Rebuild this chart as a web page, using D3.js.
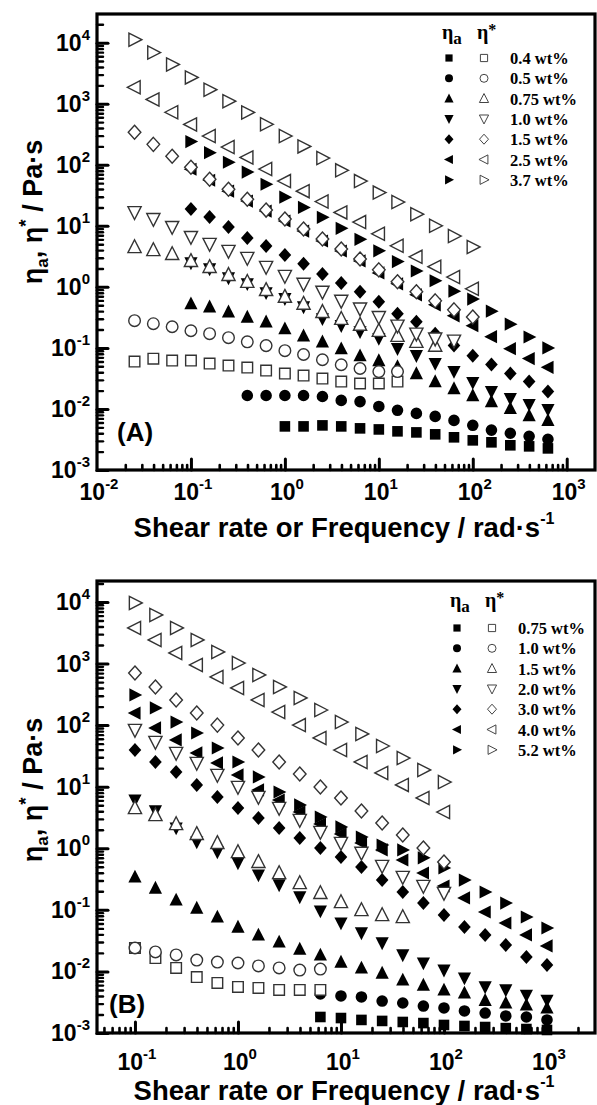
<!DOCTYPE html>
<html><head><meta charset="utf-8">
<script src="https://cdn.jsdelivr.net/npm/d3@7"></script>
<style>body{margin:0;background:#fff}svg{display:block}</style>
</head><body>
<svg id="chart" width="597" height="1105"></svg>
<script>
// ---------- DATA ----------
// Panel A
const rateA = [0.1,0.158,0.251,0.398,0.631,1,1.58,2.51,3.98,6.31,10,15.8,25.1,39.8,63.1,100,158,251,398,631];
const freqA = [0.0251,0.0398,0.0631,0.1,0.158,0.251,0.398,0.631,1,1.58,2.51,3.98,6.31,10,15.8,25.1,39.8,63.1,100];
const concA = ["0.4 wt%","0.5 wt%","0.75 wt%","1.0 wt%","1.5 wt%","2.5 wt%","3.7 wt%"];
const etaAStart = [5,3,0,0,0,0,0];
const etaA = [
  [0.00518,0.00518,0.00538,0.00518,0.00481,0.00462,0.0043,0.00413,0.00384,0.00343,0.00306,0.00284,0.00254,0.00244,0.00226],
  [0.0166,0.0166,0.0166,0.0166,0.016,0.0138,0.0132,0.011,0.0095,0.00845,0.00755,0.0065,0.0054,0.0045,0.004,0.00356,0.00318],
  [0.53,0.47,0.39,0.32,0.268,0.206,0.158,0.126,0.097,0.0747,0.062,0.0494,0.038,0.0281,0.0216,0.0166,0.0132,0.0102,0.0078,0.0065],
  [2.47,1.97,1.40,1.12,0.80,0.64,0.47,0.30,0.231,0.184,0.142,0.097,0.0747,0.0553,0.0409,0.0271,0.0193,0.0148,0.0118,0.0098],
  [18.8,13.9,9.55,6.31,4.67,3.33,2.38,1.63,1.16,0.83,0.57,0.362,0.268,0.171,0.109,0.0747,0.0533,0.038,0.0281,0.0193],
  [84.5,55.8,36.9,25.4,17.4,12.0,8.2,5.64,3.87,2.66,1.69,1.12,0.74,0.508,0.336,0.231,0.153,0.097,0.067,0.048],
  [240,158,110,76,48,29.5,20,13.8,9.1,6.0,3.9,2.6,1.82,1.26,0.85,0.63,0.40,0.245,0.151,0.100]
];
const starA = [
  [0.0597,0.0667,0.062,0.062,0.0553,0.0513,0.0476,0.0426,0.038,0.0352,0.0315,0.0281,0.0261,0.0261,0.0281],
  [0.279,0.249,0.222,0.191,0.171,0.147,0.126,0.109,0.090,0.078,0.064,0.053,0.046,0.041,0.041],
  [4.50,4.02,3.46,2.66,2.12,1.57,1.21,0.89,0.69,0.53,0.39,0.30,0.24,0.191,0.158,0.126,0.109],
  [16.7,12.9,9.55,6.55,5.04,3.87,2.97,2.12,1.51,1.12,0.83,0.59,0.44,0.32,0.231,0.171,0.142,0.131],
  [340,216,138,91,58,39.8,27.3,18.1,12.9,8.85,6.08,4.17,2.86,1.90,1.21,0.83,0.59,0.42,0.32],
  [1860,1175,725,457,295,195,132,85,54,37,25,16.6,11.5,7.4,4.7,3.1,2.14,1.45,0.93],
  [11200,6900,4400,2700,1700,1100,720,460,295,200,129,81,54,35,24.5,15.5,10,6.8,4.5]
];
// Panel B
const rateB = [0.1,0.158,0.251,0.398,0.631,1,1.58,2.51,3.98,6.31,10,15.8,25.1,39.8,63.1,100,158,251,398,631,1000];
const freqB = [0.1,0.158,0.251,0.398,0.631,1,1.58,2.51,3.98,6.31,10,15.8,25.1,39.8,63.1,100];
const concB = ["0.75 wt%","1.0 wt%","1.5 wt%","2.0 wt%","3.0 wt%","4.0 wt%","5.2 wt%"];
const etaBStart = [9,9,0,0,0,0,0];
const etaB = [
  [0.00182,0.00175,0.00163,0.00157,0.00151,0.00145,0.00135,0.0013,0.00125,0.0012,0.00116,0.00112],
  [0.0043,0.0040,0.00385,0.0033,0.00307,0.00274,0.00255,0.00228,0.00211,0.00189,0.00182,0.00163],
  [0.342,0.226,0.145,0.107,0.0766,0.0526,0.0391,0.0301,0.0231,0.0185,0.0142,0.0114,0.0094,0.00726,0.0060,0.0050,0.00447,0.0034,0.00307,0.00285,0.00255],
  [6.08,4.04,2.13,1.26,0.87,0.577,0.368,0.254,0.162,0.0957,0.0611,0.0421,0.029,0.0185,0.0137,0.0105,0.0078,0.0056,0.0050,0.0041,0.0034],
  [39.4,25.2,17.3,10.7,6.8,4.51,3.10,2.13,1.47,1.01,0.72,0.497,0.305,0.195,0.129,0.0824,0.0526,0.0391,0.0269,0.0171,0.0127],
  [157,89.9,57.4,35.3,24.3,15.5,8.85,6.08,3.88,2.48,1.71,1.22,0.94,0.645,0.397,0.244,0.156,0.0923,0.0611,0.0391,0.0259],
  [309,190,112,74.5,42.5,25.2,14.4,8.2,5.05,3.22,2.22,1.52,1.13,0.94,0.70,0.48,0.305,0.195,0.129,0.0766,0.0507]
];
const starB = [
  [0.024,0.0165,0.0114,0.0081,0.0065,0.0056,0.0054,0.005,0.005,0.005],
  [0.024,0.0207,0.0185,0.0153,0.0142,0.0137,0.0123,0.0114,0.0105,0.0109],
  [4.51,3.47,2.48,1.71,1.22,0.87,0.60,0.397,0.273,0.188,0.134,0.0995,0.0824,0.0766],
  [83.4,53.2,35.3,24.3,15.5,9.9,6.8,4.51,2.88,1.84,1.22,0.84,0.515,0.342,0.244,0.188],
  [703,416,256,157,100,61.8,39.4,25.2,16.1,9.9,6.56,4.04,2.58,1.64,1.01,0.60],
  [3780,2415,1485,948,605,401,256,163,100,61.8,39.4,25.2,16.7,10.7,6.56,3.88],
  [9640,6150,3780,2415,1540,1020,652,416,276,176,112,71.8,45.8,29.2,18.7,11.9]
];
const markerShapes = ["square","circle","up","down","diamond","left","right"];
const yExpTicks = [-3,-2,-1,0,1,2,3,4];
const xExpTicksA = [-2,-1,0,1,2,3];
const xExpTicksB = [-1,0,1,2,3];

// ---------- DRAWING ----------
const svg = d3.select("#chart");
const SANS = "'Liberation Sans', Arial, sans-serif";
const SERIF = "'Liberation Serif', 'Times New Roman', serif";

const shapePath = {
  square: r => `M${-r},${-r}H${r}V${r}H${-r}Z`,
  circle: r => `M${r},0A${r},${r} 0 1,1 ${-r},0A${r},${r} 0 1,1 ${r},0Z`,
  up: r => `M0,${-1.1*r}L${r},${0.85*r}L${-r},${0.85*r}Z`,
  down: r => `M0,${1.1*r}L${r},${-0.85*r}L${-r},${-0.85*r}Z`,
  diamond: r => `M0,${-r}L${0.9*r},0L0,${r}L${-0.9*r},0Z`,
  left: r => `M${-1.1*r},0L${0.85*r},${-r}L${0.85*r},${r}Z`,
  right: r => `M${1.1*r},0L${-0.85*r},${-r}L${-0.85*r},${r}Z`
};
const markSize = {square:5.3, circle:5.8, up:6.6, down:6.6, diamond:7, left:6.6, right:6.6};
const legSize = {square:3.6, circle:4, up:4.6, down:4.6, diamond:5, left:4.6, right:4.6};

function supLabel(sel, base, exp, supSize, dy) {
  sel.append("tspan").text(base);
  sel.append("tspan").attr("dy", dy).attr("font-size", supSize).text(exp);
}

function drawPanel(c) {
  const g = svg.append("g");
  const x = d3.scaleLog().domain(c.xDomain).range([c.left, c.right]);
  const y = d3.scaleLog().domain(c.yDomain).range([c.bottom, c.top]);
  const yMaj = c.yExp.map(e => Math.pow(10, e));
  const xMaj = c.xExp.map(e => Math.pow(10, e));
  const isMajor = v => Math.abs(Math.log10(v) - Math.round(Math.log10(v))) < 1e-6;
  const yMin = y.ticks().filter(v => !isMajor(v));
  const xMin = x.ticks().filter(v => !isMajor(v) && x(v) < c.right - 4);

  const axStyle = a => {
    a.select(".domain").remove();
    a.selectAll("line").attr("stroke", "#000").attr("stroke-linecap", "round");
  };
  g.append("g").attr("transform", `translate(${c.left},0)`)
    .call(d3.axisLeft(y).tickValues(yMaj).tickSize(-11).tickFormat(""))
    .call(axStyle).selectAll("line").attr("stroke-width", 3);
  g.append("g").attr("transform", `translate(${c.left},0)`)
    .call(d3.axisLeft(y).tickValues(yMin).tickSize(-6).tickFormat(""))
    .call(axStyle).selectAll("line").attr("stroke-width", 2.4);
  g.append("g").attr("transform", `translate(0,${c.bottom})`)
    .call(d3.axisBottom(x).tickValues(xMaj.filter(v => x(v) > c.left + 3)).tickSize(-11).tickFormat(""))
    .call(axStyle).selectAll("line").attr("stroke-width", 3);
  g.append("g").attr("transform", `translate(0,${c.bottom})`)
    .call(d3.axisBottom(x).tickValues(xMin).tickSize(-5).tickFormat(""))
    .call(axStyle).selectAll("line").attr("stroke-width", 2.6);

  // frame
  g.append("rect").attr("x", c.left).attr("y", c.top)
    .attr("width", c.right - c.left).attr("height", c.bottom - c.top)
    .attr("fill", "none").attr("stroke", "#000").attr("stroke-width", 3.2);

  // tick labels
  c.yExp.forEach(e => {
    const t = g.append("text").attr("x", c.left - 7).attr("y", y(Math.pow(10, e)) + 8)
      .attr("text-anchor", "end").attr("font-family", SANS).attr("font-weight", "bold")
      .attr("font-size", 23).attr("fill", "#000");
    supLabel(t, "10", String(e), 15, -11);
  });
  c.xExp.forEach(e => {
    const t = g.append("text").attr("x", x(Math.pow(10, e)) + 2).attr("y", c.xLabelY)
      .attr("text-anchor", "middle").attr("font-family", SANS).attr("font-weight", "bold")
      .attr("font-size", 23).attr("fill", "#000");
    supLabel(t, "10", String(e), 15, -11);
  });

  // axis titles
  const xt = g.append("text").attr("x", (c.left + c.right) / 2 - 2).attr("y", c.xTitleY)
    .attr("text-anchor", "middle").attr("font-family", SANS).attr("font-weight", "bold")
    .attr("font-size", 27.5).attr("fill", "#000");
  supLabel(xt, "Shear rate or Frequency / rad\u00b7s", "-1", 16, -13);

  const yt = g.append("text").attr("transform", `translate(42,${c.yTitleY}) rotate(-90)`)
    .attr("text-anchor", "middle").attr("font-family", SANS).attr("font-weight", "bold")
    .attr("font-size", 27).attr("fill", "#000");
  yt.append("tspan").text("\u03b7");
  yt.append("tspan").attr("dy", 6).attr("font-size", 17).text("a");
  yt.append("tspan").attr("dy", -6).text(", \u03b7");
  yt.append("tspan").attr("dy", -10).attr("font-size", 19).text("*");
  yt.append("tspan").attr("dy", 10).text(" / Pa\u00b7s");

  // panel tag
  g.append("text").attr("x", c.tagX).attr("y", c.tagY).attr("font-family", SANS)
    .attr("font-weight", "bold").attr("font-size", 26).attr("fill", "#000").text(c.tag);

  // data: filled (apparent viscosity vs shear rate)
  c.eta.forEach((vals, i) => {
    const xs = c.rate.slice(c.etaStart[i], c.etaStart[i] + vals.length);
    const shp = markerShapes[i];
    g.append("g").selectAll("path").data(vals.map((v, k) => ({x: xs[k], y: v})))
      .join("path").attr("d", shapePath[shp](markSize[shp]))
      .attr("transform", d => `translate(${x(d.x)},${y(d.y)})`)
      .attr("fill", "#000");
  });
  // open (complex viscosity vs frequency)
  c.star.forEach((vals, i) => {
    const xs = c.freq.slice(0, vals.length);
    const shp = markerShapes[i];
    g.append("g").selectAll("path").data(vals.map((v, k) => ({x: xs[k], y: v})))
      .join("path").attr("d", shapePath[shp](markSize[shp]))
      .attr("transform", d => `translate(${x(d.x)},${y(d.y)})`)
      .attr("fill", "#fff").attr("stroke", "#333").attr("stroke-width", 1.4);
  });

  // legend
  const L = c.legend;
  const h1 = g.append("text").attr("x", L.x1 - 7).attr("y", L.headY).attr("font-family", SERIF)
    .attr("font-weight", "bold").attr("font-size", 20).attr("fill", "#000");
  h1.append("tspan").text("\u03b7");
  h1.append("tspan").attr("dy", 5).attr("font-size", 17).text("a");
  const h2 = g.append("text").attr("x", L.x2 - 7).attr("y", L.headY).attr("font-family", SERIF)
    .attr("font-weight", "bold").attr("font-size", 20).attr("fill", "#000");
  h2.append("tspan").text("\u03b7");
  h2.append("tspan").attr("dy", -4).attr("font-size", 16).text("*");
  c.conc.forEach((lab, i) => {
    const yy = L.y0 + i * L.dy;
    const shp = markerShapes[i];
    g.append("path").attr("d", shapePath[shp](legSize[shp]))
      .attr("transform", `translate(${L.x1},${yy})`).attr("fill", "#000");
    g.append("path").attr("d", shapePath[shp](legSize[shp]))
      .attr("transform", `translate(${L.x2},${yy})`).attr("fill", "#fff")
      .attr("stroke", "#444").attr("stroke-width", 1);
    g.append("text").attr("x", L.xt).attr("y", yy + 6).attr("font-family", SERIF)
      .attr("font-weight", "bold").attr("font-size", 16.5).attr("fill", "#000").text(lab);
  });
}

drawPanel({
  left: 97, right: 595, top: 14, bottom: 470,
  xDomain: [0.01, 2000], yDomain: [1e-3, 29500],
  yExp: yExpTicks, xExp: xExpTicksA,
  xLabelY: 500, xTitleY: 537, yTitleY: 212,
  tag: "(A)", tagX: 117, tagY: 441,
  rate: rateA, freq: freqA, eta: etaA, etaStart: etaAStart, star: starA, conc: concA,
  legend: {x1: 449, x2: 484, xt: 510, headY: 39, y0: 58, dy: 20.3}
});
drawPanel({
  left: 97, right: 595, top: 581, bottom: 1033,
  xDomain: [0.0428, 2925], yDomain: [1e-3, 21900],
  yExp: yExpTicks, xExp: xExpTicksB,
  xLabelY: 1070, xTitleY: 1100, yTitleY: 790,
  tag: "(B)", tagX: 109, tagY: 1013,
  rate: rateB, freq: freqB, eta: etaB, etaStart: etaBStart, star: starB, conc: concB,
  legend: {x1: 457, x2: 492, xt: 518, headY: 607, y0: 628, dy: 20.3}
});
</script>
</body></html>
